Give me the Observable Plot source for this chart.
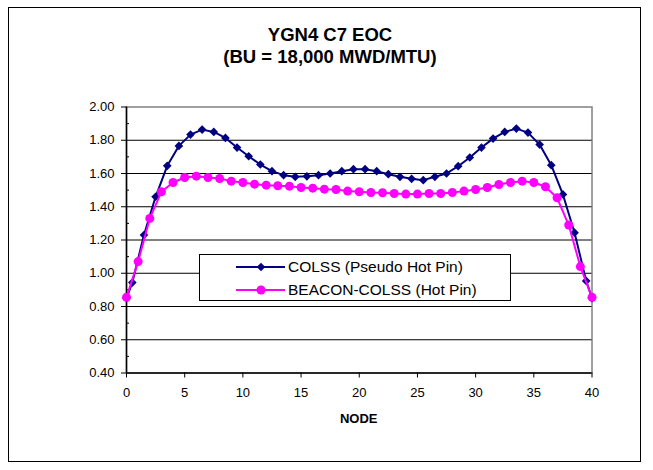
<!DOCTYPE html>
<html>
<head>
<meta charset="utf-8">
<script src="https://cdn.jsdelivr.net/npm/d3@7"></script>
<script src="https://cdn.jsdelivr.net/npm/@observablehq/plot@0.6"></script>
<style>
  html, body { margin: 0; padding: 0; background: #fff; }
  #wrap { position: relative; width: 653px; height: 470px; font-family: "Liberation Sans", Arial, sans-serif; color: #000; overflow: hidden; }
  #border { position: absolute; left: 8px; top: 7px; width: 633px; height: 455px; box-sizing: border-box; border: 1px solid #000; }
  .title { position: absolute; left: 0; width: 660px; text-align: center; font-weight: bold; font-size: 18.5px; line-height: 18.5px; white-space: nowrap; }
  #chart { position: absolute; left: 0; top: 0; }
  #xlabel { position: absolute; left: 0; width: 717.5px; text-align: center; font-weight: bold; font-size: 13px; line-height: 13px; top: 412px; }
  #legend { position: absolute; left: 199px; top: 254px; width: 312px; height: 47px; box-sizing: border-box; border: 1px solid #000; background: #fff; font-size: 15.5px; }
  .row { position: absolute; left: 36px; height: 20px; display: flex; align-items: center; white-space: nowrap; }
  .row span { margin-left: 2px; }
</style>
</head>
<body>
<div id="wrap">
  <div id="border"></div>
  <div class="title" id="t1" style="top:26px"></div>
  <div class="title" id="t2" style="top:48px"></div>
  <div id="chart"></div>
  <div id="xlabel"></div>
  <div id="legend"></div>
</div>
<script>
// ---- Data ----
const titleLine1 = "YGN4 C7 EOC";
const titleLine2 = "(BU = 18,000 MWD/MTU)";
const xAxisLabel = "NODE";
const seriesNames = ["COLSS (Pseudo Hot Pin)", "BEACON-COLSS (Hot Pin)"];
const seriesColors = ["#000080", "#FF00FF"];

const colssNodes = [0, 0.5, 1.5, 2.5, 3.5, 4.5, 5.5, 6.5, 7.5, 8.5, 9.5, 10.5, 11.5, 12.5, 13.5, 14.5,
  15.5, 16.5, 17.5, 18.5, 19.5, 20.5, 21.5, 22.5, 23.5, 24.5, 25.5, 26.5, 27.5, 28.5, 29.5,
  30.5, 31.5, 32.5, 33.5, 34.5, 35.5, 36.5, 37.5, 38.5, 39.5, 40];
const colssValues = [0.85, 0.944, 1.23, 1.46, 1.646, 1.766, 1.834, 1.864, 1.85, 1.814, 1.756, 1.704, 1.654, 1.614, 1.59, 1.58,
  1.583, 1.59, 1.60, 1.614, 1.626, 1.626, 1.614, 1.596, 1.58, 1.568, 1.56, 1.58, 1.60, 1.644, 1.696,
  1.756, 1.81, 1.85, 1.87, 1.846, 1.774, 1.65, 1.474, 1.244, 0.954, 0.85];

const beaconNodes = [0, 1, 2, 3, 4, 5, 6, 7, 8, 9, 10, 11, 12, 13, 14, 15, 16, 17, 18, 19, 20,
  21, 22, 23, 24, 25, 26, 27, 28, 29, 30, 31, 32, 33, 34, 35, 36, 37, 38, 39, 40];
const beaconValues = [0.855, 1.07, 1.33, 1.49, 1.546, 1.576, 1.584, 1.576, 1.57, 1.554, 1.546, 1.536, 1.53, 1.526, 1.524, 1.516, 1.512, 1.506, 1.504, 1.494, 1.49,
  1.486, 1.484, 1.48, 1.476, 1.476, 1.48, 1.48, 1.486, 1.494, 1.504, 1.516, 1.534, 1.546, 1.554, 1.546, 1.52, 1.454, 1.29, 1.04, 0.855];

const xTicks = [0, 5, 10, 15, 20, 25, 30, 35, 40];
const yTicks = [0.4, 0.6, 0.8, 1.0, 1.2, 1.4, 1.6, 1.8, 2.0];
const yGrid = [0.6, 0.8, 1.0, 1.2, 1.4, 1.6, 1.8];
const yMinor = [0.5, 0.7, 0.9, 1.1, 1.3, 1.5, 1.7, 1.9];

// ---- Build ----
const colss = colssNodes.map((x, i) => ({x, y: colssValues[i]}));
const beacon = beaconNodes.map((x, i) => ({x, y: beaconValues[i]}));

document.getElementById("t1").textContent = titleLine1;
document.getElementById("t2").textContent = titleLine2;
document.getElementById("xlabel").textContent = xAxisLabel;

const chart = Plot.plot({
  width: 653,
  height: 470,
  marginLeft: 126,
  marginRight: 61.5,
  marginTop: 106.5,
  marginBottom: 97.5,
  style: {fontSize: "13px", fontFamily: "'Liberation Sans', Arial, sans-serif", color: "#000", background: "transparent", overflow: "visible"},
  x: {domain: [0, 40]},
  y: {domain: [0.4, 2.0]},
  marks: [
    Plot.frame({stroke: "#808080", strokeWidth: 1.5}),
    Plot.ruleY(yGrid, {stroke: "#000", strokeWidth: 1}),
    Plot.ruleY([0.4], {stroke: "#000", strokeWidth: 1.5}),
    Plot.ruleX([0], {stroke: "#000", strokeWidth: 1.5}),
    Plot.axisY({ticks: yTicks, tickFormat: d3.format(".2f"), tickSize: 5, tickPadding: 7, label: null}),
    Plot.axisY({ticks: yMinor, tickFormat: () => "", tickSize: -3, label: null}),
    Plot.axisX({ticks: xTicks, tickFormat: d3.format("d"), tickSize: 5, tickPadding: 10, label: null}),
    Plot.line(colss, {x: "x", y: "y", stroke: seriesColors[0], strokeWidth: 2}),
    Plot.dot(colss, {x: "x", y: "y", symbol: "diamond2", r: 3.9, fill: seriesColors[0], stroke: "none"}),
    Plot.line(beacon, {x: "x", y: "y", stroke: seriesColors[1], strokeWidth: 2}),
    Plot.dot(beacon, {x: "x", y: "y", r: 4.5, fill: seriesColors[1], stroke: "none"})
  ]
});
document.getElementById("chart").appendChild(chart);

// ---- Legend ----
const legend = document.getElementById("legend");
const rowTops = [1.7, 25.3];
seriesNames.forEach((name, i) => {
  const row = document.createElement("div");
  row.className = "row";
  row.style.top = rowTops[i] + "px";
  const sym = i === 0
    ? `<path d="M25,5.7 L29.3,10 L25,14.3 L20.7,10 Z" fill="${seriesColors[i]}"/>`
    : `<circle cx="25" cy="10" r="4.5" fill="${seriesColors[i]}"/>`;
  row.innerHTML = `<svg width="50" height="20"><line x1="0" x2="49" y1="10" y2="10" stroke="${seriesColors[i]}" stroke-width="2"/>${sym}</svg><span></span>`;
  row.querySelector("span").textContent = name;
  legend.appendChild(row);
});
</script>
</body>
</html>
